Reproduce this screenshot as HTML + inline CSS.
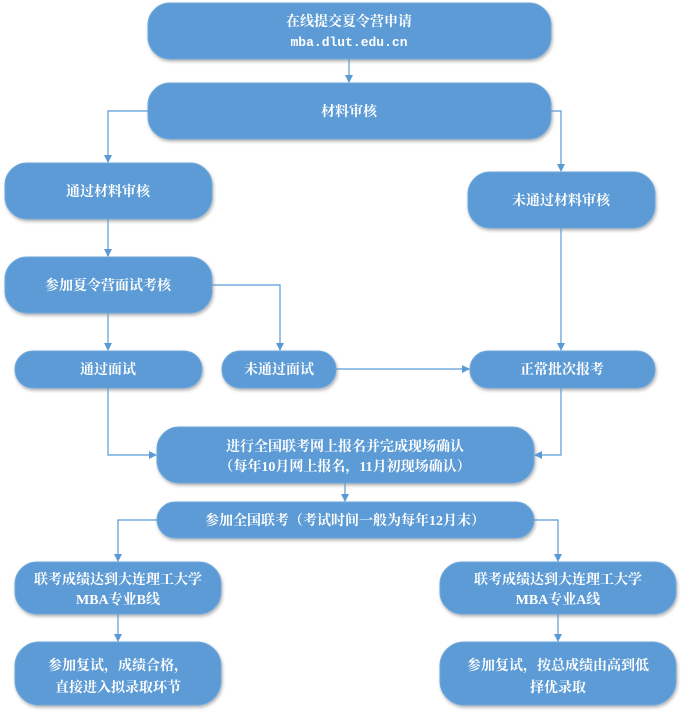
<!DOCTYPE html>
<html><head><meta charset="utf-8"><style>
html,body{margin:0;padding:0;background:#fff;width:684px;height:716px;overflow:hidden}
svg text{font-family:"Liberation Serif","Noto Serif CJK SC",serif;fill:#fff;font-size:14px;font-weight:bold;text-anchor:middle}
</style></head><body>
<svg width="684" height="716" viewBox="0 0 684 716" xmlns="http://www.w3.org/2000/svg">
<defs>
<marker id="a" markerWidth="8" markerHeight="8" refX="7" refY="4" orient="auto" markerUnits="userSpaceOnUse"><path d="M0,0 L8,4 L0,8 z" fill="#5b9bd5"/></marker>
<filter id="s" x="-10%" y="-20%" width="120%" height="150%"><feDropShadow dx="1" dy="2" stdDeviation="1.5" flood-color="#000" flood-opacity="0.3"/></filter>
</defs>
<g fill="#5b9bd5" stroke="#6fa8dc" stroke-width="1" filter="url(#s)">
<rect x="148" y="3" width="403" height="56" rx="22"/>
<rect x="148" y="83" width="403" height="56" rx="22"/>
<rect x="5" y="163" width="207" height="56" rx="22"/>
<rect x="468" y="172" width="187" height="56" rx="22"/>
<rect x="5" y="257" width="207" height="56" rx="22"/>
<rect x="15" y="351" width="187" height="37" rx="18"/>
<rect x="222" y="351" width="114" height="37" rx="18"/>
<rect x="470" y="351" width="185" height="37" rx="18"/>
<rect x="157" y="427" width="377" height="56" rx="22"/>
<rect x="157" y="502" width="377" height="36" rx="18"/>
<rect x="15" y="562" width="206" height="52" rx="22"/>
<rect x="440" y="562" width="236" height="52" rx="22"/>
<rect x="15" y="642" width="206" height="63" rx="24"/>
<rect x="440" y="642" width="236" height="63" rx="24"/>
</g>
<g stroke="#5b9bd5" stroke-width="1.2" fill="none" marker-end="url(#a)">
<path d="M349 59 V82"/>
<path d="M148 111 H108 V162"/>
<path d="M551 111 H561 V171"/>
<path d="M108 219 V256"/>
<path d="M212 285 H280 V350"/>
<path d="M108 313 V350"/>
<path d="M561 228 V350"/>
<path d="M336 369 H469"/>
<path d="M108 388 V455 H156"/>
<path d="M561 388 V455 H535"/>
<path d="M345 483 V501"/>
<path d="M157 520 H118 V561"/>
<path d="M534 520 H558 V561"/>
<path d="M118 614 V641"/>
<path d="M558 614 V641"/>
</g>
<text x="349" y="26">在线提交夏令营申请</text>
<text x="349" y="46" style="font-family:'Liberation Mono','Noto Serif CJK SC',monospace;font-size:13px">mba.dlut.edu.cn</text>
<text x="349" y="116">材料审核</text>
<text x="108" y="196">通过材料审核</text>
<text x="561" y="205">未通过材料审核</text>
<text x="108" y="290">参加夏令营面试考核</text>
<text x="108" y="374">通过面试</text>
<text x="279" y="374">未通过面试</text>
<text x="562" y="374">正常批次报考</text>
<text x="345" y="451">进行全国联考网上报名并完成现场确认</text>
<text x="345" y="471">（每年10月网上报名，11月初现场确认）</text>
<text x="345" y="525">参加全国联考（考试时间一般为每年12月末）</text>
<text x="118" y="584">联考成绩达到大连理工大学</text>
<text x="118" y="604">MBA专业B线</text>
<text x="558" y="584">联考成绩达到大连理工大学</text>
<text x="558" y="604">MBA专业A线</text>
<text x="118" y="670">参加复试，成绩合格，</text>
<text x="118" y="692">直接进入拟录取环节</text>
<text x="558" y="670">参加复试，按总成绩由高到低</text>
<text x="558" y="692">择优录取</text>
</svg>
</body></html>
